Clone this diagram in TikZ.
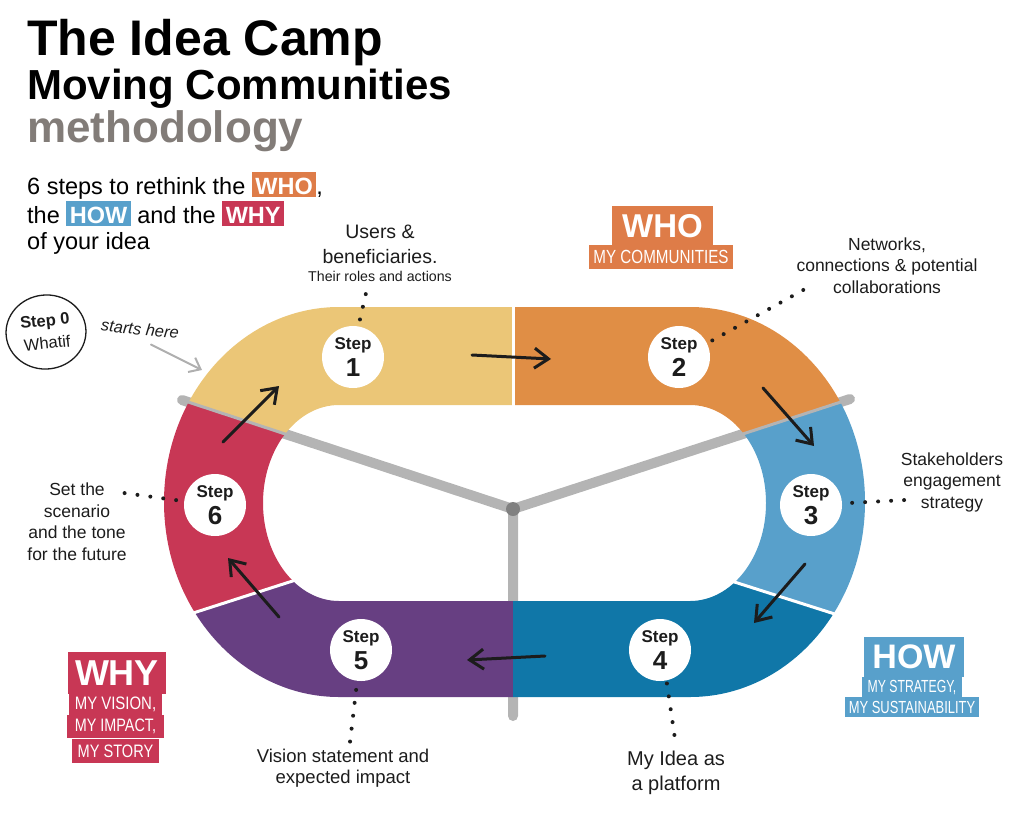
\documentclass[tikz,border=0pt]{standalone}
\usepackage{fontspec}
\setmainfont{Liberation Sans}
\usepackage{graphicx}
\usetikzlibrary{shapes.geometric, arrows.meta, positioning, calc}
\definecolor{campyellow}{RGB}{235,198,119}
\definecolor{camporange}{RGB}{224,142,69}
\definecolor{camplight}{RGB}{88,160,203}
\definecolor{campblue}{RGB}{16,119,168}
\definecolor{camppurple}{RGB}{103,63,130}
\definecolor{campred}{RGB}{200,55,85}
\definecolor{whobox}{RGB}{222,124,72}
\definecolor{howbox}{RGB}{88,160,203}
\definecolor{whybox}{RGB}{200,55,85}
\definecolor{railgray}{RGB}{180,180,180}
\definecolor{hubgray}{RGB}{128,128,128}
\definecolor{hintgray}{RGB}{175,175,175}
\definecolor{methgray}{RGB}{130,124,120}
\definecolor{inkblack}{RGB}{28,28,28}

\newcommand\campsize[2]{\fontsize{#1}{#2}\selectfont}
\newcommand\squeeze[2]{\scalebox{#1}[1]{#2}}
\newcommand\hilite[2]{{\setlength\fboxsep{0pt}\colorbox{#1}{\rule[-2pt]{0pt}{25pt}\hspace{3.5pt}\textcolor{white}{\bfseries #2}\hspace{3.5pt}}}}

% the race track: outer stadium minus inner stadium
\def\trackpath{(339,307) -- (690,307) arc[start angle=-90,end angle=90,x radius=175,y radius=195]
  -- (339,697) arc[start angle=90,end angle=270,x radius=175,y radius=195] -- cycle
  (339,405) -- (690,405) arc[start angle=-90,end angle=90,x radius=76,y radius=98]
  -- (339,601) arc[start angle=90,end angle=270,x radius=76,y radius=98] -- cycle}

\tikzset{
  stepnode/.style={circle, fill=white, minimum size=62pt, inner sep=0pt, align=center, text=inkblack, font=\campsize{17}{27}\bfseries},
  flow/.style={draw=inkblack, line width=3pt, line cap=round, -{Straight Barb[length=14pt,width=20pt]}},
  hint/.style={draw=hintgray, line width=2pt, line cap=round, -{Straight Barb[length=10pt,width=16pt]}},
  leader/.style={draw=inkblack, line width=4pt, line cap=round, dash pattern=on 0pt off 13pt},
  note/.style={align=center, text=inkblack, inner sep=0pt, anchor=base},
  tagbox/.style={rectangle, text=white, inner sep=0pt},
}

\begin{document}
\begin{tikzpicture}[x=1pt, y=-1pt]
\useasboundingbox (0,0) rectangle (1024,822);

% heading (multi-line nodes sit on the baseline of their last line)
\node[anchor=base west, inner sep=0pt, text=black, font=\campsize{50}{50}\bfseries] (title) at (27,55) {The Idea Camp};
\node[anchor=base west, inner sep=0pt, text=black, font=\campsize{42}{42}\bfseries] (subtitle) at (27,99) {Moving Communities};
\node[anchor=base west, inner sep=0pt, text=methgray, font=\campsize{44}{44}\bfseries] (method) at (27,142) {methodology};
\node[anchor=base west, inner sep=0pt, align=left, text=black, font=\campsize{23.5}{25.5}] (intro) at (27,249) {6 steps to rethink the \hilite{whobox}{WHO},\\the \hilite{howbox}{HOW} and the \hilite{whybox}{WHY}\\of your idea};

% rails
\coordinate (hub) at (513,509);
\draw[railgray, line width=10pt, line cap=round, line join=round] (182,400) -- (hub) -- (850,399) (hub) -- (513,716);

% track segments
\begin{scope}
\clip (513,250) -- (hub) -- (100,373) -- (100,250) -- cycle;
\fill[campyellow, even odd rule] \trackpath;
\end{scope}
\begin{scope}
\clip (100,373) -- (400,472) -- (400,548) -- (100,642) -- cycle;
\fill[campred, even odd rule] \trackpath;
\end{scope}
\begin{scope}
\clip (100,642) -- (400,548) -- (513,548) -- (513,800) -- (100,800) -- cycle;
\fill[camppurple, even odd rule] \trackpath;
\end{scope}
\begin{scope}
\clip (513,548) -- (630,550) -- (930,643) -- (930,800) -- (513,800) -- cycle;
\fill[campblue, even odd rule] \trackpath;
\end{scope}
\begin{scope}
\clip (630,471) -- (930,373) -- (930,643) -- (630,550) -- cycle;
\fill[camplight, even odd rule] \trackpath;
\end{scope}
\begin{scope}
\clip (513,250) -- (hub) -- (930,373) -- (930,250) -- cycle;
\fill[camporange, even odd rule] \trackpath;
\end{scope}

% dividers
\draw[white, line width=3pt] (513,300) -- (513,412);
\draw[railgray, line width=3pt] (182,400) -- (hub) -- (850,399);
\draw[white, line width=3pt] (187,615) -- (305,577);
\draw[white, line width=3pt] (725,579) -- (841,616);
\fill[hubgray] (hub) circle[radius=7pt];

% steps
\node[stepnode] (s1) at (353,357) {Step\\{\campsize{26}{27}1}};
\node[stepnode] (s2) at (679,357) {Step\\{\campsize{26}{27}2}};
\node[stepnode] (s3) at (811,505) {Step\\{\campsize{26}{27}3}};
\node[stepnode] (s4) at (660,650) {Step\\{\campsize{26}{27}4}};
\node[stepnode] (s5) at (361,650) {Step\\{\campsize{26}{27}5}};
\node[stepnode] (s6) at (215,505) {Step\\{\campsize{26}{27}6}};

% flow arrows
\coordinate (f12a) at (472,355); \coordinate (f12b) at (551,359);
\coordinate (f23a) at (763,388); \coordinate (f23b) at (814,446);
\coordinate (f34a) at (805,564); \coordinate (f34b) at (754,623);
\coordinate (f45a) at (545,656); \coordinate (f45b) at (467,660);
\coordinate (f56a) at (279,617); \coordinate (f56b) at (228,558);
\coordinate (f61a) at (223,442); \coordinate (f61b) at (279,386);
\draw[flow] (f12a) -- (f12b);
\draw[flow] (f23a) -- (f23b);
\draw[flow] (f34a) -- (f34b);
\draw[flow] (f45a) -- (f45b);
\draw[flow] (f56a) -- (f56b);
\draw[flow] (f61a) -- (f61b);

% step descriptions
\node[note, font=\campsize{19.5}{25}] (users) at (380,281) {Users \&\\beneficiaries.\\[-7pt]{\campsize{14.2}{18}Their roles and actions}};
\node[note, font=\campsize{17.5}{21.5}] (networks) at (887,293) {Networks,\\connections \& potential\\collaborations};
\node[note, font=\campsize{17.5}{21.5}] (stake) at (952,508) {Stakeholders\\engagement\\strategy};
\node[note, font=\campsize{20}{25}] (platform) at (676,790) {My Idea as\\a platform};
\node[note, font=\campsize{18.5}{21}] (vision) at (343,783) {Vision statement and\\expected impact};
\node[note, font=\campsize{17.5}{21.5}] (scene) at (77,560) {Set the\\scenario\\and the tone\\for the future};

% dotted leaders
\coordinate (l1) at (366,293);
\coordinate (l2) at (805,289);
\coordinate (l3) at (905,500);
\coordinate (l4) at (675,739);
\coordinate (l5) at (350,742);
\coordinate (l6) at (124,493);
\draw[leader, shorten <=7pt] (s1.80) -- (l1);
\draw[leader, shorten <=6pt] (s2.26) -- (l2);
\draw[leader, shorten <=10pt] (s3.3) -- (l3);
\draw[leader, shorten <=3pt] (s4.-78) -- (l4);
\draw[leader, shorten <=9pt] (s5.-97) -- (l5);
\draw[leader, shorten <=8pt] (s6.173) -- (l6);

% step 0
\node[draw=inkblack, ellipse, line width=1.3pt, minimum width=80pt, minimum height=74pt, inner sep=0pt, rotate=6, align=center, text=inkblack, font=\campsize{16.5}{23}] (s0) at (46,332) {\bfseries Step 0\\Whatif};
\node[rotate=-6, text=inkblack, font=\campsize{16.5}{16.5}\itshape] (start) at (140,329) {starts here};
\coordinate (entry) at (202,370);
\draw[hint] ([xshift=12pt,yshift=-6pt]start.south) -- (entry);

% WHO / HOW / WHY
\node[tagbox, fill=whobox, minimum width=101pt, minimum height=41pt, font=\campsize{33}{33}\bfseries] (who) at (662.5,226.5) {WHO};
\node[tagbox, fill=whobox, minimum width=144pt, minimum height=24pt, font=\campsize{19}{19}] (whosub) at (661,257) {\squeeze{0.80}{MY COMMUNITIES}};

\node[tagbox, fill=howbox, minimum width=100pt, minimum height=40pt, font=\campsize{34}{34}\bfseries] (how) at (914,657) {HOW};
\node[tagbox, fill=howbox, minimum width=100pt, minimum height=20pt, font=\campsize{17.5}{17.5}] (howsub) at (912,687) {\squeeze{0.70}{MY STRATEGY,}};
\node[tagbox, fill=howbox, minimum width=134pt, minimum height=20pt, font=\campsize{17.5}{17.5}] (howsub2) at (912,707) {\squeeze{0.74}{MY SUSTAINABILITY}};

\node[tagbox, fill=whybox, minimum width=98pt, minimum height=42pt, font=\campsize{36}{36}\bfseries] (why) at (117,673) {WHY};
\node[tagbox, fill=whybox, minimum width=93pt, minimum height=21pt, font=\campsize{18}{18}] (why1) at (115.5,704) {\squeeze{0.83}{MY VISION,}};
\node[tagbox, fill=whybox, minimum width=97pt, minimum height=23pt, font=\campsize{18}{18}] (why2) at (115.5,726.5) {\squeeze{0.80}{MY IMPACT,}};
\node[tagbox, fill=whybox, minimum width=87pt, minimum height=24pt, font=\campsize{18}{18}] (why3) at (115.5,751) {\squeeze{0.81}{MY STORY}};
\end{tikzpicture}
\end{document}
